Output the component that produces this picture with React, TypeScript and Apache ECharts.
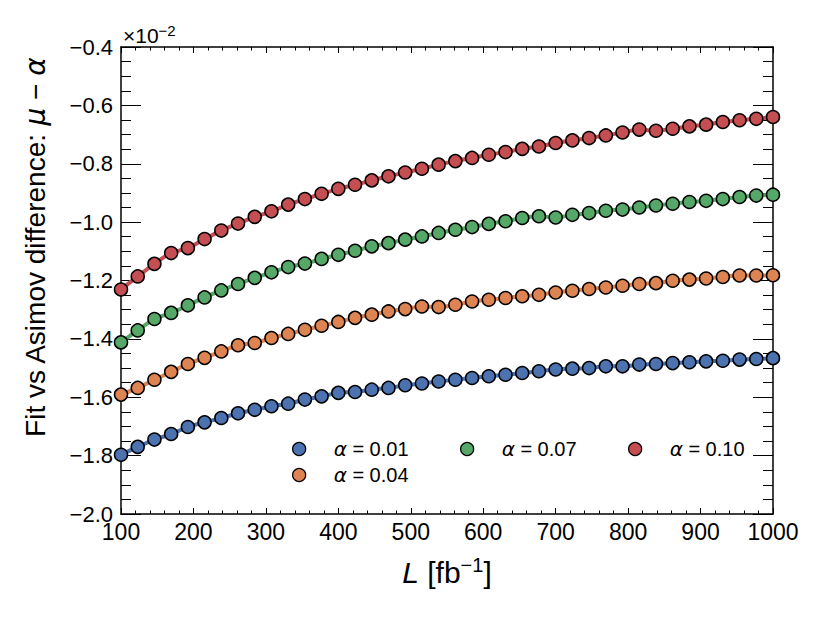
import React, { useEffect, useRef } from "react";
import * as echarts from "echarts";

const FONT = "Liberation Sans";
const GREEK = "DejaVu Sans";

const alphas = ["0.01", "0.04", "0.07", "0.10"];
const colors = ["#4C72B0", "#DD8452", "#55A868", "#C44E52"];

const lumi = [
  100, 123.08, 146.15, 169.23, 192.31, 215.38, 238.46, 261.54, 284.62, 307.69,
  330.77, 353.85, 376.92, 400, 423.08, 446.15, 469.23, 492.31, 515.38, 538.46,
  561.54, 584.62, 607.69, 630.77, 653.85, 676.92, 700, 723.08, 746.15, 769.23,
  792.31, 815.38, 838.46, 861.54, 884.62, 907.69, 930.77, 953.85, 976.92, 1000,
];

const diffA001 = [
  -1.797, -1.77, -1.745, -1.726, -1.702, -1.686, -1.671, -1.655, -1.643, -1.631,
  -1.622, -1.608, -1.597, -1.585, -1.582, -1.574, -1.568, -1.559, -1.553, -1.546,
  -1.54, -1.534, -1.528, -1.523, -1.517, -1.511, -1.505, -1.502, -1.5, -1.494,
  -1.494, -1.488, -1.486, -1.483, -1.48, -1.477, -1.475, -1.471, -1.469, -1.466,
];
const diffA004 = [
  -1.591, -1.568, -1.54, -1.513, -1.486, -1.465, -1.443, -1.422, -1.414, -1.397,
  -1.383, -1.369, -1.355, -1.342, -1.328, -1.317, -1.306, -1.298, -1.289, -1.291,
  -1.283, -1.272, -1.266, -1.26, -1.254, -1.249, -1.241, -1.235, -1.229, -1.224,
  -1.218, -1.212, -1.209, -1.201, -1.197, -1.193, -1.188, -1.183, -1.183, -1.182,
];
const diffA007 = [
  -1.412, -1.371, -1.332, -1.311, -1.285, -1.258, -1.234, -1.212, -1.191, -1.172,
  -1.154, -1.142, -1.126, -1.112, -1.098, -1.083, -1.072, -1.06, -1.049, -1.037,
  -1.026, -1.017, -1.006, -0.997, -0.986, -0.98, -0.984, -0.975, -0.969, -0.961,
  -0.957, -0.95, -0.943, -0.937, -0.931, -0.927, -0.921, -0.914, -0.909, -0.906,
];
const diffA010 = [
  -1.231, -1.186, -1.143, -1.106, -1.089, -1.058, -1.029, -1.005, -0.982, -0.963,
  -0.94, -0.921, -0.903, -0.886, -0.872, -0.857, -0.843, -0.83, -0.817, -0.803,
  -0.791, -0.78, -0.769, -0.76, -0.749, -0.741, -0.729, -0.72, -0.712, -0.703,
  -0.693, -0.683, -0.687, -0.68, -0.672, -0.666, -0.657, -0.651, -0.646, -0.64,
];
const seriesValues = [diffA001, diffA004, diffA007, diffA010];

// legend placement (column-major like the reference)
const legendSlots = [
  { left: 292, top: 439 },
  { left: 292, top: 465 },
  { left: 460, top: 439 },
  { left: 628, top: 439 },
];

const fmtY = (v: number) => (v < 0 ? "\u2212" : "") + Math.abs(v).toFixed(1);
const fmtX = (v: number) => String(Math.round(v));

export default function App() {
  const ref = useRef<HTMLDivElement>(null);
  useEffect(() => {
    if (!ref.current) return;
    const chart = echarts.init(ref.current, undefined, { renderer: "svg" });

    const axisLine = { show: true, lineStyle: { color: "#000", width: 1.5 } };
    const xCommon = {
      type: "value",
      min: 100,
      max: 1000,
      interval: 100,
      axisLine,
      axisTick: { show: true, inside: true, length: 6, lineStyle: { color: "#000", width: 1 } },
      minorTick: { show: true, splitNumber: 5, length: 3.5, lineStyle: { color: "#000", width: 1 } },
      splitLine: { show: false },
      minorSplitLine: { show: false },
    };
    const yCommon = {
      type: "value",
      min: -2.0,
      max: -0.4,
      interval: 0.2,
      axisLine,
      axisTick: { show: true, inside: true, length: 20, lineStyle: { color: "#000", width: 1 } },
      minorTick: { show: true, splitNumber: 4, length: 10, lineStyle: { color: "#000", width: 1 } },
      splitLine: { show: false },
      minorSplitLine: { show: false },
    };

    const option: any = {
      animation: false,
      backgroundColor: "#fff",
      grid: { left: 121, right: 49, top: 47, bottom: 103, containLabel: false },
      xAxis: [
        {
          ...xCommon,
          position: "bottom",
          axisLabel: { fontSize: 23, color: "#000", fontFamily: FONT, margin: 6, formatter: fmtX },
          name: "{i|L} [fb{s|\u22121}]",
          nameLocation: "middle",
          nameGap: 41,
          nameTextStyle: {
            fontSize: 30,
            fontFamily: FONT,
            color: "#000",
            lineHeight: 35,
            rich: {
              i: { fontStyle: "italic", fontSize: 30, fontFamily: FONT, color: "#000", lineHeight: 35 },
              s: { fontSize: 20, fontFamily: FONT, color: "#000", verticalAlign: "top", lineHeight: 35 },
            },
          },
        },
        { ...xCommon, position: "top", axisLabel: { show: false } },
      ],
      yAxis: [
        {
          ...yCommon,
          position: "left",
          axisLabel: { fontSize: 22, color: "#000", fontFamily: FONT, margin: 8, formatter: fmtY },
          name: "Fit vs Asimov difference: {i|\u03bc} \u2212 {i|\u03b1}",
          nameLocation: "middle",
          nameGap: 72,
          nameTextStyle: {
            fontSize: 28,
            fontFamily: FONT,
            color: "#000",
            padding: [0, 0, 0, 66],
            rich: {
              i: { fontStyle: "italic", fontSize: 28, fontFamily: GREEK, color: "#000" },
            },
          },
        },
        { ...yCommon, position: "right", axisLabel: { show: false } },
      ],
      legend: alphas.map((a, k) => ({
        data: [`\u03b1 = ${a}`],
        left: legendSlots[k].left,
        top: legendSlots[k].top,
        padding: 0,
        orient: "horizontal",
        icon: "circle",
        itemWidth: 13,
        itemHeight: 13,
        selectedMode: false,
        itemStyle: { borderColor: "#000", borderWidth: 1.3 },
        formatter: () => `{g| }{i|\u03b1} = ${a}`,
        textStyle: {
          fontSize: 20,
          fontFamily: FONT,
          color: "#000",
          lineHeight: 20,
          rich: {
            g: { width: 23, fontSize: 20, lineHeight: 20 },
            i: { fontStyle: "italic", fontFamily: GREEK, fontSize: 20, color: "#000", lineHeight: 20 },
          },
        },
      })),
      graphic: [
        {
          type: "text",
          left: 123,
          top: 23,
          style: {
            text: "\u00d710{s|\u22122}",
            fontSize: 21,
            fontFamily: FONT,
            fill: "#000",
            lineHeight: 24,
            rich: {
              s: { fontSize: 15, fontFamily: FONT, fill: "#000", verticalAlign: "top", lineHeight: 24 },
            },
          },
        },
      ],
      series: alphas.map((a, k) => ({
        type: "line",
        name: `\u03b1 = ${a}`,
        xAxisIndex: 0,
        yAxisIndex: 0,
        data: lumi.map((x, i) => [x, seriesValues[k][i]]),
        smooth: 0.4,
        symbol: "circle",
        symbolSize: 13,
        showAllSymbol: true,
        clip: true,
        lineStyle: { color: colors[k], width: 4 },
        itemStyle: { color: colors[k], borderColor: "#000", borderWidth: 1.5 },
        emphasis: { disabled: true },
        z: 2 + k,
      })),
    };

    chart.setOption(option);
    return () => chart.dispose();
  }, []);

  return (
    <div
      ref={ref}
      style={{ position: "fixed", left: 0, top: 0, width: 822, height: 617, background: "#fff" }}
    />
  );
}
